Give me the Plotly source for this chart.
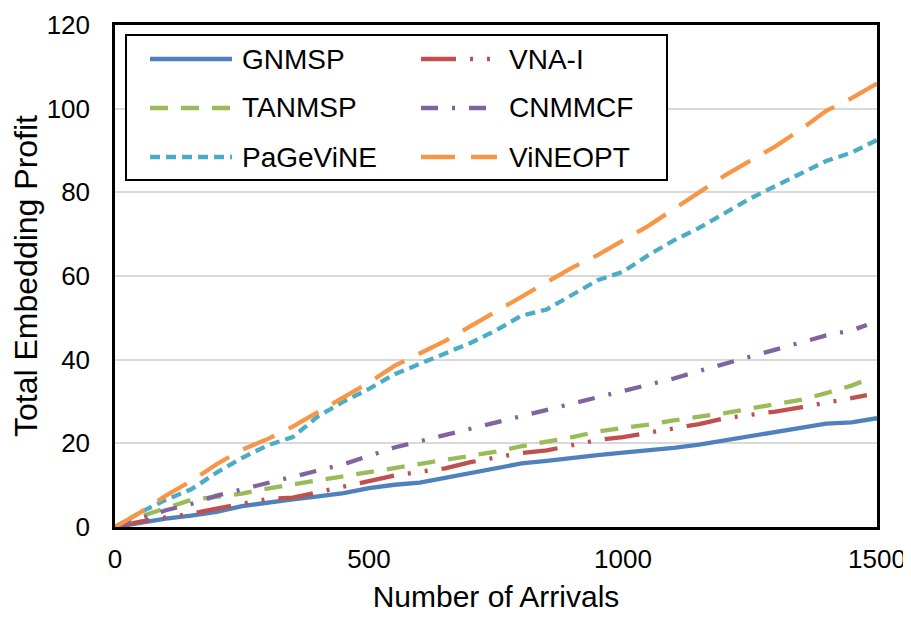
import plotly.graph_objects as go

x_vals = [0, 50, 100, 150, 200, 250, 300, 350, 400, 450, 500, 550, 600, 650, 700, 750,
          800, 850, 900, 950, 1000, 1050, 1100, 1150, 1200, 1250, 1300, 1350, 1400, 1450, 1500]
x_short = [0, 50, 100, 150, 200, 250, 300, 350, 400, 450, 500, 550, 600, 650, 700, 750,
           800, 850, 900, 950, 1000, 1050, 1100, 1150, 1200, 1250, 1300, 1350, 1400, 1450, 1480]

gnmsp = [0, 1.0, 2.0, 2.7, 3.6, 5.0, 5.9, 6.6, 7.3, 8.1, 9.3, 10.1, 10.6, 11.8, 12.8, 14.2,
         15.2, 15.8, 16.6, 17.2, 17.8, 18.3, 18.9, 19.7, 20.7, 21.7, 22.5, 23.7, 24.7, 25.0, 26.0]
vna_i = [0, 1.3, 2.3, 3.2, 4.4, 5.6, 6.7, 7.0, 8.3, 9.7, 11.0, 12.3, 13.2, 14.0, 15.5, 16.5,
         17.7, 18.3, 19.6, 20.8, 21.5, 22.6, 23.5, 24.6, 26.0, 26.7, 27.6, 28.6, 29.8, 30.8, 31.5]
tanmsp = [0, 2.5, 4.5, 6.5, 7.2, 8.0, 9.2, 10.2, 11.0, 12.0, 13.1, 14.0, 15.0, 16.0, 17.0, 18.0,
          19.3, 20.3, 21.5, 22.8, 23.6, 24.5, 25.5, 26.3, 27.2, 28.3, 29.3, 30.4, 32.0, 33.8, 35.2]
cnmmcf = [0, 2.0, 4.0, 5.5, 7.5, 9.0, 10.5, 12.0, 13.5, 15.0, 17.0, 19.0, 20.5, 22.0, 23.5, 25.0,
          26.5, 28.0, 29.5, 31.0, 32.3, 34.0, 35.5, 37.3, 39.0, 40.5, 42.3, 44.0, 45.8, 47.0, 48.3]
pagevine = [0, 3.5, 6.5, 9.0, 13.0, 16.5, 19.5, 21.5, 26.5, 30.0, 33.0, 36.5, 39.0, 41.5, 44.0, 47.0,
            50.5, 52.0, 55.5, 59.0, 61.0, 65.0, 68.5, 71.5, 75.0, 78.5, 81.5, 84.5, 87.5, 89.5, 92.5]
vineopt = [0, 3.5, 7.5, 11.0, 15.0, 18.5, 21.0, 24.0, 27.5, 31.0, 34.5, 38.5, 41.5, 44.5, 48.0, 51.5,
           55.0, 58.5, 62.0, 65.0, 68.5, 72.0, 76.0, 80.0, 84.0, 87.5, 91.0, 95.0, 99.5, 102.5, 106.0]

names = ["GNMSP", "VNA-I", "TANMSP", "CNMMCF", "PaGeViNE", "ViNEOPT"]
colors = ["#4F81BD", "#C0504D", "#9BBB59", "#8064A2", "#4BACC6", "#F79646"]
dashes = ["solid", "35px,14px,3px,14px,3px,14px", "18px,13px", "17px,14px,3px,14px",
          "10px,6px", "34px,16px"]
series = [gnmsp, vna_i, tanmsp, cnmmcf, pagevine, vineopt]
xs = [x_vals, x_short, x_short, x_short, x_vals, x_vals]

x_ticks = [0, 500, 1000, 1500]
y_ticks = [0, 20, 40, 60, 80, 100, 120]

FONT = "Liberation Sans, Arial, Helvetica, sans-serif"

fig = go.Figure()
for n, c, d, y, x in zip(names, colors, dashes, series, xs):
    fig.add_trace(go.Scatter(x=x, y=y, mode="lines", name=n, showlegend=False,
                             line=dict(color=c, width=4.3, dash=d)))

OFF = 8  # page body margin
W, H = 911 - OFF, 621 - 2 * OFF
# plot area in window pixels
WL, WR, WT, WB = 115, 877, 25, 527
L, T = WL - OFF, WT - OFF
R, B = W - (WR - OFF), H - (WB - OFF)
pw, ph = WR - WL, WB - WT

def px_to_paper(px, py):
    return (px - WL) / pw, (WB - py) / ph

# custom legend box
x0, y0 = px_to_paper(126, 35)
x1, y1 = px_to_paper(667, 180)
fig.add_shape(type="rect", xref="paper", yref="paper", x0=x0, y0=y1, x1=x1, y1=y0,
              line=dict(color="black", width=2), fillcolor="white", layer="above")
rows = [59, 108, 157]
cols = [(150, 232, 240), (421, 497, 507)]
for i, (n, c, d) in enumerate(zip(names, colors, dashes)):
    r, col = i // 2, i % 2
    lx0, lx1, tx = cols[col]
    py = rows[r]
    a0, b = px_to_paper(lx0, py)
    a1, _ = px_to_paper(lx1, py)
    fig.add_shape(type="line", xref="paper", yref="paper", x0=a0, x1=a1, y0=b, y1=b,
                  line=dict(color=c, width=4.3, dash=d), layer="above")
    t, _ = px_to_paper(tx, py)
    fig.add_annotation(xref="paper", yref="paper", x=t, y=b, text=n, showarrow=False,
                       xanchor="left", yanchor="middle",
                       font=dict(family=FONT, size=28, color="black"))

fig.update_layout(
    width=W, height=H,
    margin=dict(l=L, r=R, t=T, b=B, pad=0, autoexpand=False),
    paper_bgcolor="white", plot_bgcolor="white",
    font=dict(family=FONT, size=26, color="black"),
    showlegend=False,
)
fig.update_xaxes(range=[0, 1500], tickvals=x_ticks, ticktext=[str(v) for v in x_ticks],
                 showgrid=False, zeroline=False, showline=True, linecolor="black", linewidth=2.5,
                 mirror=True, ticks="", ticklabelstandoff=7, ticklabeloverflow="allow",
                 title=dict(text="Number of Arrivals", font=dict(size=30), standoff=16))
fig.update_yaxes(range=[0, 120], tickvals=y_ticks, ticktext=[str(v) for v in y_ticks],
                 showgrid=True, gridcolor="#D9D9D9", gridwidth=1.5, zeroline=False,
                 showline=True, linecolor="black", linewidth=2.5, mirror=True, ticks="",
                 ticklabelstandoff=17,
                 title=dict(text="Total Embedding Profit", font=dict(size=32), standoff=2))

fig.write_html("out.html")
